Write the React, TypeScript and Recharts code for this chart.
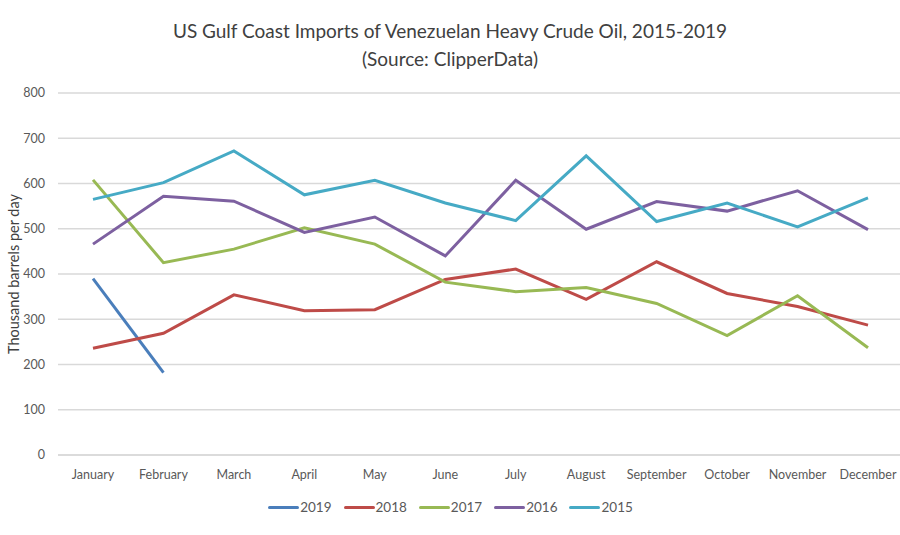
import React from "react";
import { LineChart, Line, XAxis, YAxis, CartesianGrid, Legend, Label } from "recharts";

const months = ["January","February","March","April","May","June","July","August","September","October","November","December"];
const y2019 = [390, 182];
const y2018 = [236, 269, 354, 319, 321, 388, 411, 344, 427, 357, 328, 287];
const y2017 = [608, 425, 455, 502, 466, 382, 361, 370, 335, 264, 352, 237];
const y2016 = [466, 572, 561, 492, 526, 440, 607, 499, 560, 539, 584, 498];
const y2015 = [565, 602, 672, 575, 607, 557, 518, 661, 516, 557, 504, 568];
const yTicks = [0, 100, 200, 300, 400, 500, 600, 700, 800];

const seriesDefs = [
  { key: "2019", values: y2019, color: "#4a7ebb" },
  { key: "2018", values: y2018, color: "#be4b48" },
  { key: "2017", values: y2017, color: "#98b954" },
  { key: "2016", values: y2016, color: "#7d60a0" },
  { key: "2015", values: y2015, color: "#46aac5" },
];

const data = months.map((m, i) => {
  const row: Record<string, string | number | undefined> = { month: m };
  seriesDefs.forEach((s) => {
    row[s.key] = s.values[i];
  });
  return row;
});

const FONT = "Lato, 'Open Sans', sans-serif";

const LegendContent = () => (
  <div style={{ display: "flex", justifyContent: "center", alignItems: "center", fontFamily: FONT, fontSize: 13.5, color: "#595959", paddingLeft: 10, transform: "translateY(2px)" }}>
    {seriesDefs.map((s) => (
      <div key={s.key} style={{ display: "flex", alignItems: "center", marginRight: 12 }}>
        <div style={{ width: 31, height: 3, background: s.color, borderRadius: 2, marginRight: 1 }} />
        <span>{s.key}</span>
      </div>
    ))}
  </div>
);

const YLabel = (props: any) => {
  const vb = props.viewBox || { x: 0, y: 93, width: 58, height: 362 };
  const cy = vb.y + vb.height / 2;
  const cx = 13;
  return (
    <text
      x={cx}
      y={cy}
      transform={`rotate(-90 ${cx} ${cy})`}
      textAnchor="middle"
      dominantBaseline="central"
      fill="#404040"
      fontSize={14.5}
      fontFamily={FONT}
    >
      Thousand barrels per day
    </text>
  );
};

export default function App() {
  return (
    <div style={{ position: "absolute", left: 0, top: 0, width: 900, height: 535, background: "#fff" }}>
      <div style={{ position: "absolute", left: 0, top: 17, width: 900, textAlign: "center", fontFamily: FONT, fontSize: 19, color: "#404040", lineHeight: "28px" }}>
        US Gulf Coast Imports of Venezuelan Heavy Crude Oil, 2015-2019
        <br />
        (Source: ClipperData)
      </div>
      <LineChart width={900} height={535} data={data} margin={{ top: 93, right: -3, left: 0, bottom: 0 }}>
        <CartesianGrid vertical={false} stroke="#d9d9d9" strokeWidth={1.3} />
        <XAxis
          dataKey="month"
          tickLine={false}
          axisLine={{ stroke: "#d9d9d9", strokeWidth: 1.3 }}
          tick={{ fill: "#595959", fontSize: 12.5, fontFamily: FONT }}
          tickMargin={9}
          interval={0}
          height={34}
          padding={{ left: 35, right: 35 }}
        />
        <YAxis
          domain={[0, 800]}
          ticks={yTicks}
          tickLine={false}
          axisLine={false}
          width={58}
          tickMargin={7}
          tick={{ fill: "#595959", fontSize: 12.5, fontFamily: FONT }}
        >
          <Label content={<YLabel />} />
        </YAxis>
        <Legend verticalAlign="bottom" height={38} content={<LegendContent />} wrapperStyle={{ paddingTop: 8 }} />
        {seriesDefs.map((s) => (
          <Line
            key={s.key}
            type="linear"
            dataKey={s.key}
            stroke={s.color}
            strokeWidth={3}
            dot={false}
            activeDot={false}
            isAnimationActive={false}
            connectNulls={false}
          />
        ))}
      </LineChart>
    </div>
  );
}
